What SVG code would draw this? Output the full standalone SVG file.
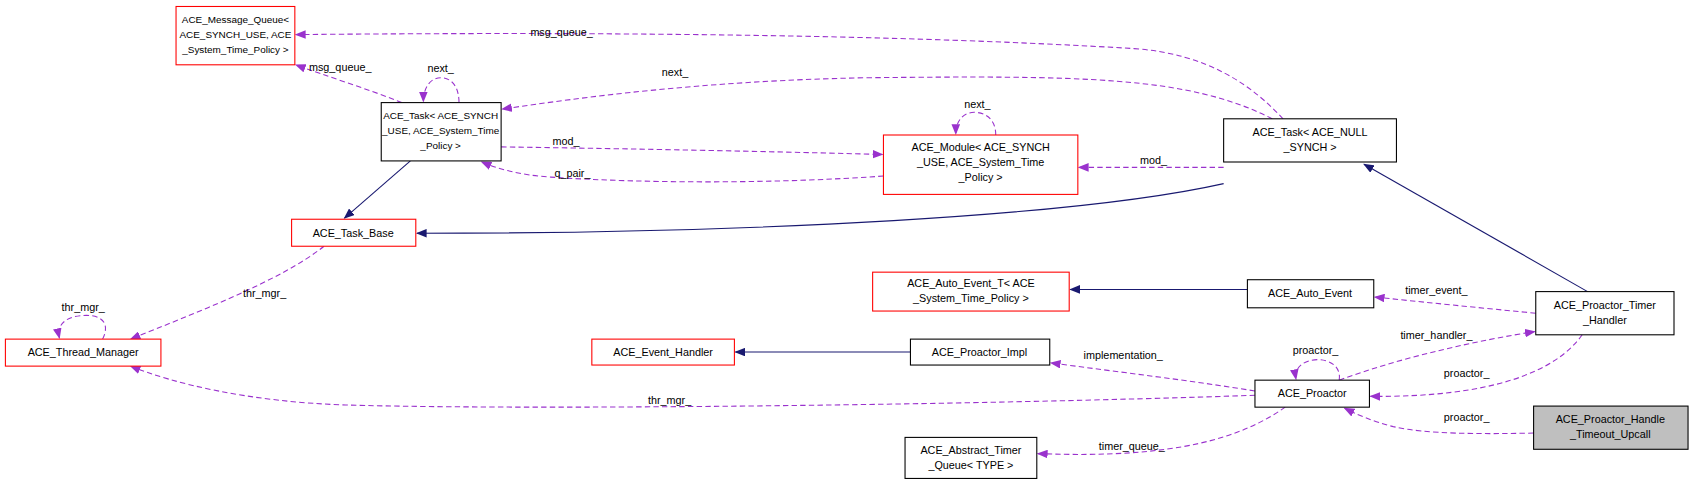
<svg xmlns="http://www.w3.org/2000/svg" width="1693" height="485" viewBox="0 0 1693 485">
<style>
text{font-family:"Liberation Sans",Arial,sans-serif;font-size:10px;fill:#000}
.n text{text-anchor:middle}
.s text{font-size:9.2px}
.r{fill:#fff;stroke:#ff0000;stroke-width:1}
.b{fill:#fff;stroke:#000;stroke-width:1}
.g{fill:#bfbfbf;stroke:#000;stroke-width:1}
.inh{fill:none;stroke:#191970;stroke-width:1}
.use{fill:none;stroke:#9a32cd;stroke-width:1;stroke-dasharray:5,3}
.lbl{text-anchor:middle}
</style>
<defs>
<marker id="ai" markerWidth="10" markerHeight="8" refX="9" refY="4" orient="auto" markerUnits="userSpaceOnUse"><path d="M0,0L10,4L0,8z" fill="#191970"/></marker>
<marker id="au" markerWidth="10" markerHeight="8" refX="9" refY="4" orient="auto" markerUnits="userSpaceOnUse"><path d="M0,0L10,4L0,8z" fill="#9a32cd"/></marker>
</defs>
<rect width="1693" height="485" fill="#fff"/>
<g transform="scale(1.08)">
<g id="connectors">
<path class="inh" marker-end="url(#ai)" d="M380,149L319,202"/>
<path class="inh" marker-end="url(#ai)" d="M1133,170C1000,200 700,216 386,216"/>
<path class="inh" marker-end="url(#ai)" d="M1470,270L1263,152"/>
<path class="inh" marker-end="url(#ai)" d="M1155,268L991,268"/>
<path class="inh" marker-end="url(#ai)" d="M843,326L681,326"/>
<path class="use" marker-end="url(#au)" d="M372,95C340,82 300,70 274,60"/>
<path class="use" marker-end="url(#au)" d="M1188,110C1160,80 1120,50 1050,45C800,30 500,30 274,32"/>
<path class="use" marker-end="url(#au)" d="M425,95C425,80 418,72 408,72C398,72 392,82 392,94"/>
<path class="use" marker-end="url(#au)" d="M1178,110C1100,70 1000,70 800,72C650,75 540,90 465,101"/>
<path class="use" marker-end="url(#au)" d="M464,136C600,138 700,140 817,143"/>
<path class="use" marker-end="url(#au)" d="M818,163C720,170 600,170 510,164C480,162 460,156 446,150"/>
<path class="use" marker-end="url(#au)" d="M922,125C922,110 912,104 902,104C892,104 885,112 885,124"/>
<path class="use" marker-end="url(#au)" d="M1133,155L999,155"/>
<path class="use" marker-end="url(#au)" d="M95,314C102,300 95,292 80,292C62,292 52,300 55,313"/>
<path class="use" marker-end="url(#au)" d="M300,228C260,260 180,290 121,314"/>
<path class="use" marker-end="url(#au)" d="M1162,366C900,375 500,380 320,375C230,372 160,355 121,339"/>
<path class="use" marker-end="url(#au)" d="M1422,290C1370,285 1320,280 1273,275"/>
<path class="use" marker-end="url(#au)" d="M1240,352C1300,330 1370,315 1421,307"/>
<path class="use" marker-end="url(#au)" d="M1240,352C1242,340 1232,333 1220,333C1208,333 1198,340 1200,351"/>
<path class="use" marker-end="url(#au)" d="M1465,310C1440,345 1380,368 1269,367"/>
<path class="use" marker-end="url(#au)" d="M1162,362C1100,352 1040,345 973,336"/>
<path class="use" marker-end="url(#au)" d="M1420,401C1370,402 1320,402 1290,395C1270,390 1255,383 1245,378"/>
<path class="use" marker-end="url(#au)" d="M1190,377C1150,405 1090,425 961,420"/>
</g>
<g id="labels">
<text class="lbl" x="315" y="66">msg_queue_</text>
<text class="lbl" x="520" y="33">msg_queue_</text>
<text class="lbl" x="408" y="67">next_</text>
<text class="lbl" x="625" y="70">next_</text>
<text class="lbl" x="524" y="134">mod_</text>
<text class="lbl" x="530" y="164">q_pair_</text>
<text class="lbl" x="905" y="100">next_</text>
<text class="lbl" x="1068" y="152">mod_</text>
<text class="lbl" x="77" y="288">thr_mgr_</text>
<text class="lbl" x="245" y="275">thr_mgr_</text>
<text class="lbl" x="620" y="374">thr_mgr_</text>
<text class="lbl" x="1330" y="272">timer_event_</text>
<text class="lbl" x="1330" y="314">timer_handler_</text>
<text class="lbl" x="1218" y="328">proactor_</text>
<text class="lbl" x="1358" y="349">proactor_</text>
<text class="lbl" x="1040" y="332">implementation_</text>
<text class="lbl" x="1358" y="390">proactor_</text>
<text class="lbl" x="1048" y="417">timer_queue_</text>
</g>
<g id="n_mq" class="n s"><rect class="r" x="163" y="6" width="110" height="54"/><text x="218" y="21">ACE_Message_Queue&lt;</text><text x="218" y="35">ACE_SYNCH_USE, ACE</text><text x="218" y="49">_System_Time_Policy &gt;</text></g>
<g id="n_tasks" class="n s"><rect class="b" x="353" y="95" width="111" height="54"/><text x="408" y="110">ACE_Task&lt; ACE_SYNCH</text><text x="408" y="124">_USE, ACE_System_Time</text><text x="408" y="138">_Policy &gt;</text></g>
<g id="n_mod" class="n"><rect class="r" x="818" y="125" width="180" height="55"/><text x="908" y="140">ACE_Module&lt; ACE_SYNCH</text><text x="908" y="154">_USE, ACE_System_Time</text><text x="908" y="168">_Policy &gt;</text></g>
<g id="n_taskn" class="n"><rect class="b" x="1133" y="110" width="160" height="40"/><text x="1213" y="126">ACE_Task&lt; ACE_NULL</text><text x="1213" y="140">_SYNCH &gt;</text></g>
<g id="n_tb" class="n"><rect class="r" x="270" y="203" width="115" height="25"/><text x="327" y="219">ACE_Task_Base</text></g>
<g id="n_tm" class="n"><rect class="r" x="5" y="314" width="144" height="25"/><text x="77" y="330">ACE_Thread_Manager</text></g>
<g id="n_aet" class="n"><rect class="r" x="808" y="252" width="182" height="36"/><text x="899" y="266">ACE_Auto_Event_T&lt; ACE</text><text x="899" y="280">_System_Time_Policy &gt;</text></g>
<g id="n_ae" class="n"><rect class="b" x="1155" y="259" width="117" height="26"/><text x="1213" y="275">ACE_Auto_Event</text></g>
<g id="n_pth" class="n"><rect class="b" x="1422" y="270" width="128" height="40"/><text x="1486" y="286">ACE_Proactor_Timer</text><text x="1486" y="300">_Handler</text></g>
<g id="n_eh" class="n"><rect class="r" x="548" y="314" width="132" height="24"/><text x="614" y="330">ACE_Event_Handler</text></g>
<g id="n_pi" class="n"><rect class="b" x="843" y="314" width="129" height="24"/><text x="907" y="330">ACE_Proactor_Impl</text></g>
<g id="n_pro" class="n"><rect class="b" x="1162" y="352" width="106" height="25"/><text x="1215" y="368">ACE_Proactor</text></g>
<g id="n_phtu" class="n"><rect class="g" x="1420" y="376" width="143" height="40"/><text x="1491" y="392">ACE_Proactor_Handle</text><text x="1491" y="406">_Timeout_Upcall</text></g>
<g id="n_atq" class="n"><rect class="b" x="838" y="405" width="122" height="38"/><text x="899" y="420">ACE_Abstract_Timer</text><text x="899" y="434">_Queue&lt; TYPE &gt;</text></g>
</g>
</svg>
